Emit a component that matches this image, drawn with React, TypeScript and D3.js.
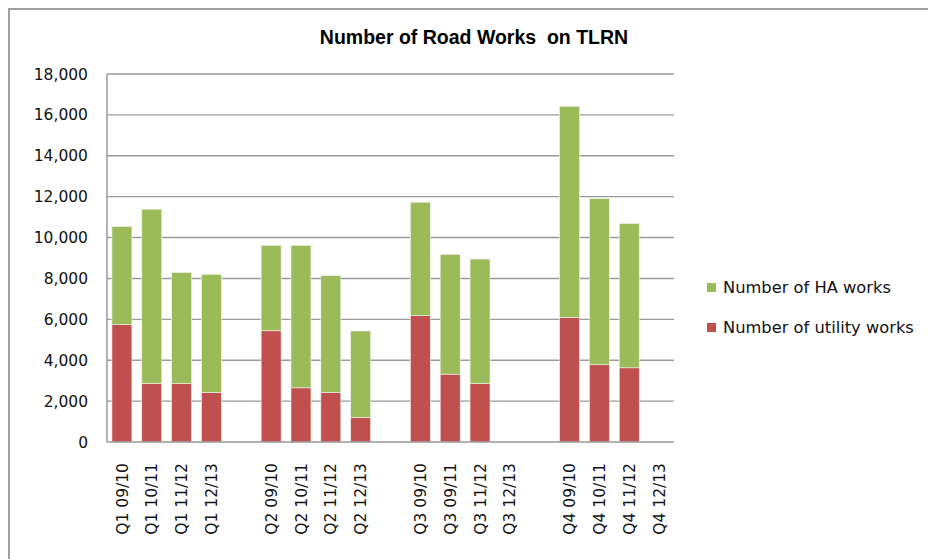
import React, { useEffect, useRef } from 'react'
import * as d3 from 'd3'

// empty strings are the spacer slots between the quarter groups
const categories = [
  'Q1 09/10', 'Q1 10/11', 'Q1 11/12', 'Q1 12/13', '',
  'Q2 09/10', 'Q2 10/11', 'Q2 11/12', 'Q2 12/13', '',
  'Q3 09/10', 'Q3 09/11', 'Q3 11/12', 'Q3 12/13', '',
  'Q4 09/10', 'Q4 10/11', 'Q4 11/12', 'Q4 12/13',
]
const utilityWorks = [5740, 2860, 2860, 2420, 0, 5440, 2650, 2420, 1210, 0, 6180, 3320, 2860, 0, 0, 6100, 3780, 3630, 0]
const haWorks = [4800, 8530, 5430, 5780, 0, 4180, 6970, 5720, 4220, 0, 5550, 5860, 6090, 0, 0, 10320, 8120, 7060, 0]
const yTicks = [0, 2000, 4000, 6000, 8000, 10000, 12000, 14000, 16000, 18000]

const seriesNames = ['Number of utility works', 'Number of HA works']
const colors = ['#C0504D', '#9BBB59']

function App() {
  const chartRef = useRef(null)

  useEffect(() => {
    const svg = d3.select(chartRef.current)
    svg.selectAll('*').remove()

    const left = 107
    const right = 674
    const top = 74
    const bottom = 442
    const font = '"DejaVu Sans", Verdana, sans-serif'

    // chart frame, runs off the right and bottom of the picture
    svg
      .append('rect')
      .attr('x', 9)
      .attr('y', 9)
      .attr('width', 1000)
      .attr('height', 1000)
      .attr('fill', '#fff')
      .attr('stroke', '#a0a0a0')
      .attr('stroke-width', 2)

    svg
      .append('text')
      .attr('x', 474)
      .attr('y', 44)
      .attr('text-anchor', 'middle')
      .attr('font-family', '"Liberation Sans", Arial, sans-serif')
      .attr('font-weight', 'bold')
      .attr('font-size', 19.5)
      .style('white-space', 'pre')
      .text('Number of Road Works  on TLRN')

    const x = d3
      .scaleBand()
      .domain(categories.map((d, i) => String(i)))
      .range([left, right])
      .paddingInner(0.33)
      .paddingOuter(0.165)

    const y = d3.scaleLinear().domain([0, 18000]).range([bottom, top])

    // gridlines
    svg
      .append('g')
      .selectAll('line')
      .data(yTicks.slice(1))
      .join('line')
      .attr('x1', left)
      .attr('x2', right)
      .attr('y1', (d) => y(d))
      .attr('y2', (d) => y(d))
      .attr('stroke', '#9a9a9a')
      .attr('stroke-width', 1.4)

    // y labels
    svg
      .append('g')
      .selectAll('text')
      .data(yTicks)
      .join('text')
      .attr('x', 88)
      .attr('y', (d) => y(d))
      .attr('dy', '0.36em')
      .attr('text-anchor', 'end')
      .attr('font-family', font)
      .attr('font-size', 15.5)
      .attr('fill', '#111')
      .text((d) => d3.format(',')(d))

    const table = categories.map((c, i) => ({ key: String(i), utility: utilityWorks[i], ha: haWorks[i] }))
    const stacked = d3.stack().keys(['utility', 'ha'])(table)

    svg
      .append('g')
      .selectAll('g')
      .data(stacked)
      .join('g')
      .attr('fill', (d, i) => colors[i])
      .selectAll('rect')
      .data((d) => d.filter((p) => p[1] > p[0]))
      .join('rect')
      .attr('x', (d) => x(d.data.key))
      .attr('width', x.bandwidth())
      .attr('y', (d) => y(d[1]))
      .attr('height', (d) => y(d[0]) - y(d[1]))
      .attr('stroke', '#f4f4f4')
      .attr('stroke-width', 0.6)

    // axis lines
    svg
      .append('line')
      .attr('x1', left)
      .attr('x2', left)
      .attr('y1', top)
      .attr('y2', bottom)
      .attr('stroke', '#999')
      .attr('stroke-width', 1.5)
    svg
      .append('line')
      .attr('x1', left)
      .attr('x2', right)
      .attr('y1', bottom)
      .attr('y2', bottom)
      .attr('stroke', '#999')
      .attr('stroke-width', 1.5)

    // rotated category labels
    svg
      .append('g')
      .selectAll('text')
      .data(categories.map((c, i) => ({ c, i })).filter((d) => d.c))
      .join('text')
      .attr('transform', (d) => `translate(${x(String(d.i)) + x.bandwidth() / 2}, 463) rotate(-90)`)
      .attr('dy', '0.36em')
      .attr('text-anchor', 'end')
      .attr('font-family', font)
      .attr('font-size', 15.5)
      .attr('fill', '#111')
      .text((d) => d.c)

    // legend, HA on top
    const legend = svg
      .append('g')
      .selectAll('g')
      .data([1, 0])
      .join('g')
      .attr('transform', (d, i) => `translate(707, ${283 + i * 40})`)
    legend
      .append('rect')
      .attr('width', 9)
      .attr('height', 9)
      .attr('fill', (d) => colors[d])
    legend
      .append('text')
      .attr('x', 16)
      .attr('y', 4.5)
      .attr('dy', '0.36em')
      .attr('font-family', font)
      .attr('font-size', 16.3)
      .attr('fill', '#111')
      .text((d) => seriesNames[d])
  }, [])

  return <svg ref={chartRef} width={928} height={559} style={{ position: 'absolute', left: 0, top: 0 }} />
}

export default App
